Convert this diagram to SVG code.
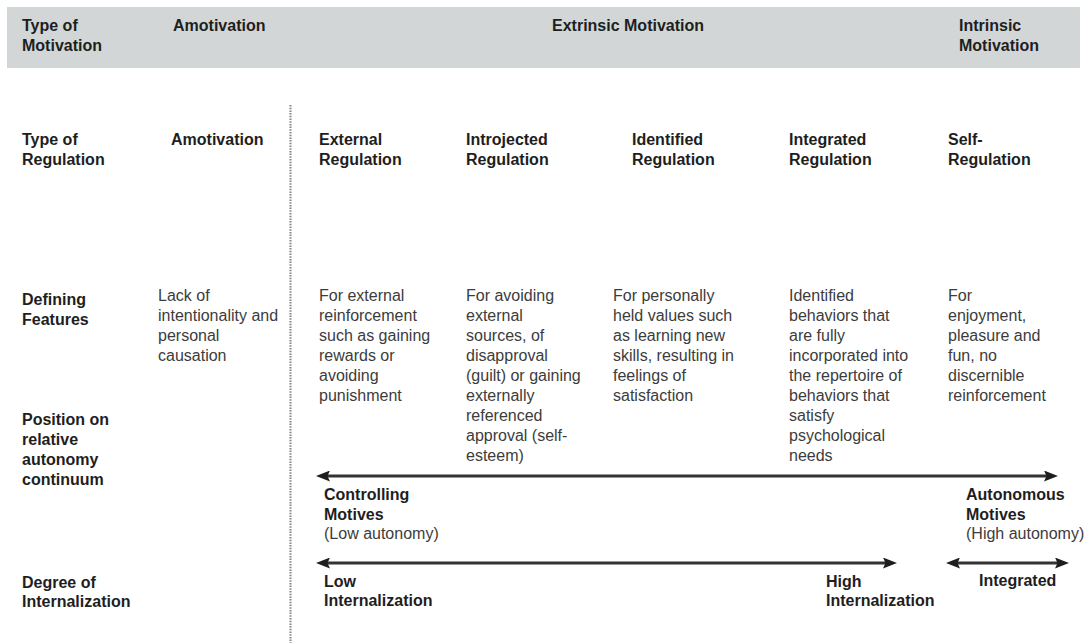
<svg xmlns="http://www.w3.org/2000/svg" width="1086" height="643" viewBox="0 0 1086 643">
<style>
text{font-family:"Liberation Sans",Arial,Helvetica,sans-serif;font-size:16px}
.b{font-weight:bold;fill:#1e1e1e}
.r{fill:#3c3c3c}
.arrow{stroke:#333;stroke-width:2.8;fill:none}
.divider{stroke:#8c8c8c;stroke-width:2.2;stroke-dasharray:1.5 1.2;fill:none}
</style>
<defs>
<marker id="ah" viewBox="0 0 14 11" refX="7" refY="5.5" markerWidth="14" markerHeight="11" markerUnits="userSpaceOnUse" orient="auto-start-reverse">
<path d="M0,0 L14,5.5 L0,11 L2.5,5.5 z" fill="#1e1e1e"/>
</marker>
</defs>
<rect width="1086" height="643" fill="#ffffff"/>
<rect id="header-band" x="7" y="7" width="1073" height="61" fill="#d2d6d6"/>

<g id="connectors">
<line class="divider" x1="290.5" y1="105" x2="290.5" y2="643"/>
<line id="autonomy-arrow" class="arrow" x1="323" y1="476" x2="1051" y2="476" marker-start="url(#ah)" marker-end="url(#ah)"/>
<line id="internalization-arrow" class="arrow" x1="323" y1="563" x2="890" y2="563" marker-end="url(#ah)" marker-start="url(#ah)"/>
<line id="integrated-arrow" class="arrow" x1="953" y1="563" x2="1062" y2="563" marker-start="url(#ah)" marker-end="url(#ah)"/>
</g>

<g id="hdr-type-of-motivation"><text class="b" x="22" y="31">Type of</text><text class="b" x="22" y="51">Motivation</text></g>
<g id="hdr-amotivation"><text class="b" x="173" y="31">Amotivation</text></g>
<g id="hdr-extrinsic"><text class="b" x="552" y="31">Extrinsic Motivation</text></g>
<g id="hdr-intrinsic"><text class="b" x="959" y="31">Intrinsic</text><text class="b" x="959" y="51">Motivation</text></g>

<g id="lbl-type-of-regulation"><text class="b" x="22" y="145">Type of</text><text class="b" x="22" y="165">Regulation</text></g>
<g id="reg-amotivation"><text class="b" x="171" y="145">Amotivation</text></g>
<g id="reg-external"><text class="b" x="319" y="145">External</text><text class="b" x="319" y="165">Regulation</text></g>
<g id="reg-introjected"><text class="b" x="466" y="145">Introjected</text><text class="b" x="466" y="165">Regulation</text></g>
<g id="reg-identified"><text class="b" x="632" y="145">Identified</text><text class="b" x="632" y="165">Regulation</text></g>
<g id="reg-integrated"><text class="b" x="789" y="145">Integrated</text><text class="b" x="789" y="165">Regulation</text></g>
<g id="reg-self"><text class="b" x="948" y="145">Self-</text><text class="b" x="948" y="165">Regulation</text></g>

<g id="lbl-defining-features"><text class="b" x="22" y="305">Defining</text><text class="b" x="22" y="325">Features</text></g>
<g id="def-amotivation">
<text class="r" x="158" y="301">Lack of</text>
<text class="r" x="158" y="321">intentionality and</text>
<text class="r" x="158" y="341">personal</text>
<text class="r" x="158" y="361">causation</text>
</g>
<g id="def-external">
<text class="r" x="319" y="301">For external</text>
<text class="r" x="319" y="321">reinforcement</text>
<text class="r" x="319" y="341">such as gaining</text>
<text class="r" x="319" y="361">rewards or</text>
<text class="r" x="319" y="381">avoiding</text>
<text class="r" x="319" y="401">punishment</text>
</g>
<g id="def-introjected">
<text class="r" x="466" y="301">For avoiding</text>
<text class="r" x="466" y="321">external</text>
<text class="r" x="466" y="341">sources, of</text>
<text class="r" x="466" y="361">disapproval</text>
<text class="r" x="466" y="381">(guilt) or gaining</text>
<text class="r" x="466" y="401">externally</text>
<text class="r" x="466" y="421">referenced</text>
<text class="r" x="466" y="441">approval (self-</text>
<text class="r" x="466" y="461">esteem)</text>
</g>
<g id="def-identified">
<text class="r" x="613" y="301">For personally</text>
<text class="r" x="613" y="321">held values such</text>
<text class="r" x="613" y="341">as learning new</text>
<text class="r" x="613" y="361">skills, resulting in</text>
<text class="r" x="613" y="381">feelings of</text>
<text class="r" x="613" y="401">satisfaction</text>
</g>
<g id="def-integrated">
<text class="r" x="789" y="301">Identified</text>
<text class="r" x="789" y="321">behaviors that</text>
<text class="r" x="789" y="341">are fully</text>
<text class="r" x="789" y="361">incorporated into</text>
<text class="r" x="789" y="381">the repertoire of</text>
<text class="r" x="789" y="401">behaviors that</text>
<text class="r" x="789" y="421">satisfy</text>
<text class="r" x="789" y="441">psychological</text>
<text class="r" x="789" y="461">needs</text>
</g>
<g id="def-self">
<text class="r" x="948" y="301">For</text>
<text class="r" x="948" y="321">enjoyment,</text>
<text class="r" x="948" y="341">pleasure and</text>
<text class="r" x="948" y="361">fun, no</text>
<text class="r" x="948" y="381">discernible</text>
<text class="r" x="948" y="401">reinforcement</text>
</g>

<g id="lbl-position"><text class="b" x="22" y="425">Position on</text><text class="b" x="22" y="445">relative</text><text class="b" x="22" y="465">autonomy</text><text class="b" x="22" y="485">continuum</text></g>
<g id="pos-controlling"><text class="b" x="324" y="500">Controlling</text><text class="b" x="324" y="520">Motives</text><text class="r" x="324" y="539">(Low autonomy)</text></g>
<g id="pos-autonomous"><text class="b" x="966" y="500">Autonomous</text><text class="b" x="966" y="520">Motives</text><text class="r" x="966" y="539">(High autonomy)</text></g>

<g id="lbl-degree"><text class="b" x="22" y="588">Degree of</text><text class="b" x="22" y="607">Internalization</text></g>
<g id="deg-low"><text class="b" x="324" y="587">Low</text><text class="b" x="324" y="606">Internalization</text></g>
<g id="deg-high"><text class="b" x="826" y="587">High</text><text class="b" x="826" y="606">Internalization</text></g>
<g id="deg-integrated"><text class="b" x="979" y="586">Integrated</text></g>
</svg>
